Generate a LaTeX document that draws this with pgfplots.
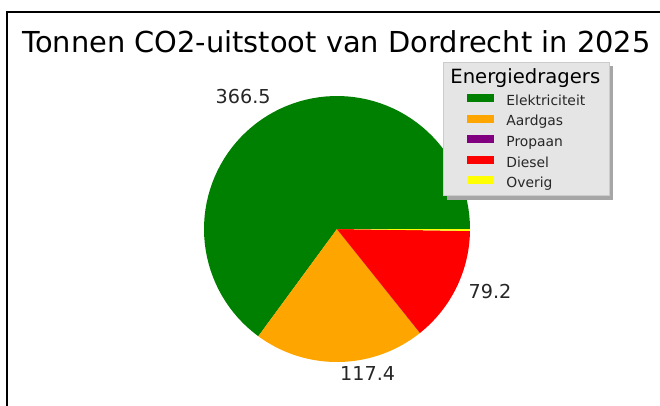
\documentclass[border=0pt]{standalone}
\usepackage{pgfplots}
\pgfplotsset{compat=1.18}
\usepackage{pgfplotstable}
\usepackage{fontspec}
\setmainfont{DejaVu Sans}
\usetikzlibrary{shadows}
\makeatletter
\tikzset{no preactions/.code={\let\tikz@preactions\pgfutil@empty}}
\makeatother
\definecolor{cGreen}{HTML}{008000}
\definecolor{cOrange}{HTML}{FFA500}
\definecolor{cPurple}{HTML}{800080}
\definecolor{cRed}{HTML}{FF0000}
\definecolor{cYellow}{HTML}{FFFF00}
\pgfplotstableread{
name value color
Elektriciteit 366.5 cGreen
Aardgas 117.4 cOrange
Propaan 0.1 cPurple
Diesel 79.2 cRed
Overig 1.3 cYellow
}\pietable
\begin{document}
\begin{tikzpicture}[x=0.75pt,y=0.75pt]
\useasboundingbox (0,0) rectangle (660,405);
\draw[line width=1pt] (7,-20) -- (7,393) -- (700,393);
\node[anchor=base, font=\fontsize{21.65}{25}\selectfont] at (336.5,353) {Tonnen CO2-uitstoot van Dordrecht in 2025};
\pgfplotstablegetrowsof{\pietable}
\pgfmathtruncatemacro\nrows{\pgfplotsretval-1}
\def\pietotal{0}
\pgfplotsforeachungrouped \i in {0,...,\nrows}{%
  \pgfplotstablegetelem{\i}{value}\of\pietable
  \pgfmathsetmacro\pietotal{\pietotal+\pgfplotsretval}%
}
\begin{axis}[at={(252.75pt,132pt)}, anchor=origin, x=99.75pt, y=99.75pt,
  xmin=-1.1, xmax=1.1, ymin=-1.1, ymax=1.1, hide axis, clip=false, scale only axis,
  legend image code/.code={\fill[no preactions,#1] (0pt,-3pt) rectangle (20.25pt,3pt);},
  legend cell align=left,
  legend style={at={(axis cs:0.797,1.256)}, anchor=north west,
    fill=black!10, draw=black!20, line width=0.6pt,
    inner xsep=18pt, inner ysep=6pt, row sep=4.5pt,
    font=\fontsize{10.4}{12}\selectfont, text=black!85,
    nodes={inner sep=0pt, text height=10.9pt, text depth=0pt},
    /tikz/every odd column/.style={column sep=9pt},
    drop shadow={shadow xshift=3pt, shadow yshift=-3pt, fill=black!35, opacity=1}}]
\addlegendimage{empty legend}
\addlegendentry{\hspace*{-42pt}\raisebox{1pt}{\color{black}\fontsize{14.7}{17}\selectfont Energiedragers}\hspace*{-12pt}}
\def\cum{0}
\pgfplotsforeachungrouped \i in {0,...,\nrows}{%
  \pgfplotstablegetelem{\i}{value}\of\pietable \let\val\pgfplotsretval
  \pgfplotstablegetelem{\i}{color}\of\pietable \let\col\pgfplotsretval
  \pgfplotstablegetelem{\i}{name}\of\pietable \let\nm\pgfplotsretval
  \pgfmathsetmacro\angA{(\cum/\pietotal)*360}%
  \pgfmathsetmacro\cum{\cum+\val}%
  \pgfmathsetmacro\angB{(\cum/\pietotal)*360}%
  \pgfmathsetmacro\angM{(\angA+\angB)/2}%
  \edef\temp{\noexpand\addplot[fill=\col, draw=none, domain=\angA:\angB, samples=80, variable=\noexpand\t] ({cos(\noexpand\t)},{sin(\noexpand\t)}) -- (axis cs:0,0) -- cycle;
    \noexpand\addlegendentry{\nm}}%
  \temp
  \pgfmathtruncatemacro\showlab{\val>5}%
  \ifnum\showlab=1
    \pgfmathsetmacro\lx{1.1*cos(\angM)}%
    \pgfmathsetmacro\ly{1.1*sin(\angM)}%
    \pgfmathtruncatemacro\isright{\lx>=0}%
    \ifnum\isright=1 \def\anch{west}\else\def\anch{east}\fi
    \edef\temp{\noexpand\node[anchor=\anch, inner sep=0pt, yshift=1.5pt, font=\noexpand\fontsize{14.4}{17}\noexpand\selectfont, text=black!85] at (axis cs:\lx,\ly) {\val};}%
    \temp
  \fi
}
\end{axis}
\end{tikzpicture}
\end{document}
